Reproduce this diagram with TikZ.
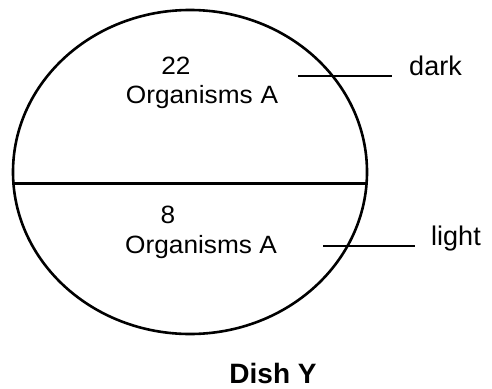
\documentclass[tikz,border=0pt]{standalone}
\usepackage{fontspec}
\setmainfont{Liberation Sans}
\usetikzlibrary{shapes.geometric}
\begin{document}
\begin{tikzpicture}[x=1pt,y=-1pt,
  lbl/.style={anchor=base,inner sep=0pt,font=\fontsize{25}{29}\selectfont,xscale=1.05,transform shape},
  side/.style={anchor=base,inner sep=0pt,font=\fontsize{27}{31}\selectfont},
  leader/.style={line width=1.8pt}]
\useasboundingbox (0,0) rectangle (492,388);
\node[ellipse,draw,line width=2.6pt,minimum width=354pt,minimum height=324pt,inner sep=0pt] (dish) at (190,172) {};
\coordinate (mL) at (13.4,183);
\coordinate (mR) at (366.6,183);
\draw[line width=3pt] (mL) -- (mR);
\node[lbl] (n22) at (176,74) {22};
\node[lbl] (oa1) at (202,103) {Organisms\hspace{0.3em}A};
\node[lbl] (n8) at (168,223) {8};
\node[lbl] (oa2) at (201,253) {Organisms A};
\node[side] (dark) at (435.5,75) {dark};
\node[side] (light) at (456,245) {light};
\node[anchor=base,inner sep=0pt,font=\bfseries\fontsize{28}{32}\selectfont] (dishy) at (273,383) {Dish Y};
\coordinate (d1) at (298,76);
\coordinate (d2) at (392,76);
\draw[leader] (d1) -- (d2);
\coordinate (l1) at (323,246);
\coordinate (l2) at (415,246);
\draw[leader] (l1) -- (l2);
\end{tikzpicture}
\end{document}
